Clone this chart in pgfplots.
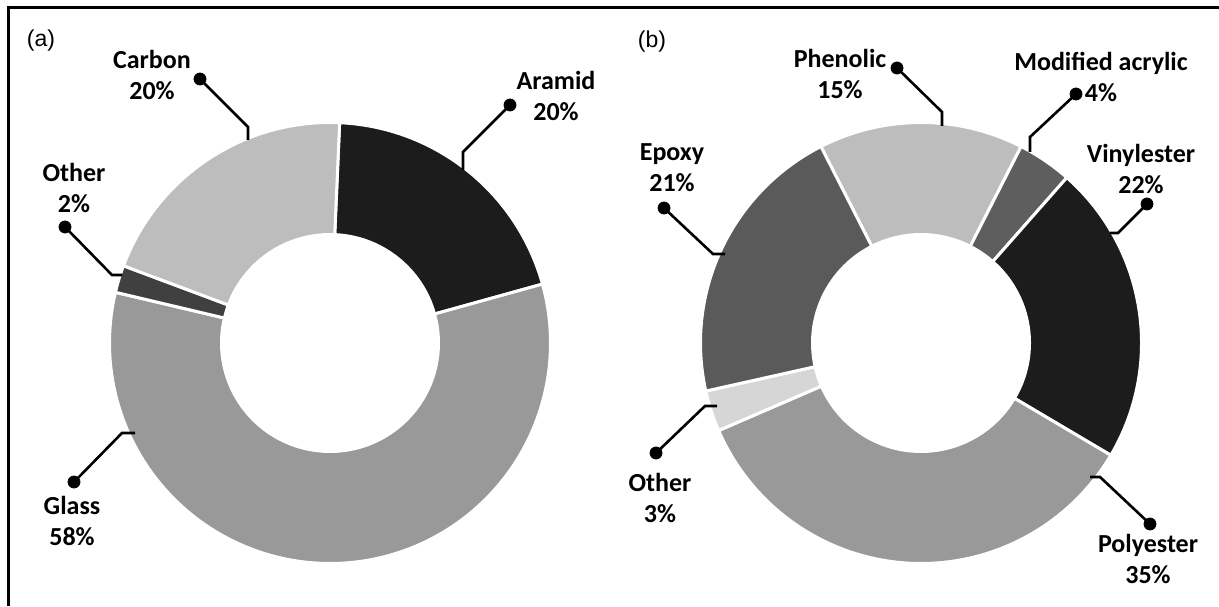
\documentclass[border=0pt]{standalone}
\usepackage{fontspec}
\setmainfont{Carlito}
\newfontfamily\arialfont{Liberation Sans}
\usepackage{pgfplots}
\pgfplotsset{compat=1.18}

\definecolor{cDark}{HTML}{1C1C1C}
\definecolor{cMid}{HTML}{999999}
\definecolor{cLight}{HTML}{BDBDBD}
\definecolor{cOtherA}{HTML}{404040}
\definecolor{cMA}{HTML}{5E5E5E}
\definecolor{cEpoxy}{HTML}{5A5A5A}
\definecolor{cOtherB}{HTML}{D6D6D6}

\newcommand\runang{0}
% #1 cx, #2 cy, #3 outer radius, #4 value (percent), #5 colour
\newcommand\sector[5]{%
  \pgfmathsetmacro\aone{\runang}%
  \pgfmathsetmacro\atwo{\runang-3.6*#4}%
  \edef\tmp{\noexpand\addplot[fill=#5, draw=white, line width=1.5pt, line join=round, domain=\atwo:\aone, samples=120] ({#1+#3*cos(x)},{#2+#3*sin(x)}) -- (axis cs:#1,#2) -- cycle;}%
  \tmp
  \global\let\runang\atwo}

\tikzset{lab/.style={align=center, font=\bfseries\fontsize{13}{15.5}\selectfont, inner sep=0pt}}

\begin{document}
\begin{tikzpicture}
\useasboundingbox (0,0) rectangle (609.5pt,303pt);
\begin{axis}[
  at={(0,0)}, anchor=south west,
  width=609.5pt, height=303pt, scale only axis,
  xmin=0, xmax=1219, ymin=0, ymax=606,
  hide axis, clip=false]

% frame
\addplot[black, line width=1.5pt, mark=none] coordinates {(8,0) (8,598.5) (1219,598.5)};

% ---- donut (a) ----
\gdef\runang{87.5}
\sector{330}{263}{220.5}{20}{cDark}    % Aramid
\sector{330}{263}{220.5}{58}{cMid}     % Glass
\sector{330}{263}{220.5}{2}{cOtherA}   % Other
\sector{330}{263}{220.5}{20}{cLight}   % Carbon
\addplot[fill=white, draw=none, domain=0:360, samples=160] ({330+110*cos(x)},{263+110*sin(x)}) -- cycle;

% ---- donut (b) ----
\gdef\runang{117}
\sector{921}{263}{220.5}{15}{cLight}     % Phenolic
\sector{921}{263}{220.5}{4}{cMA}         % Modified acrylic
\sector{921}{263}{220.5}{22}{cDark}      % Vinylester
\sector{921}{263}{220.5}{35}{cMid}       % Polyester
\sector{921}{263}{220.5}{3}{cOtherB}     % Other
\sector{921}{263}{220.5}{21}{cEpoxy}     % Epoxy
\addplot[fill=white, draw=none, domain=0:360, samples=160] ({921+110*cos(x)},{263+110*sin(x)}) -- cycle;

% ---- leader lines ----
\pgfplotsset{leader/.style={black, line width=1.3pt, mark=none, line join=miter}}
\addplot[leader] coordinates {(200,527) (248,479) (248,466)};
\addplot[leader] coordinates {(65,379) (112,331) (122,331)};
\addplot[leader] coordinates {(74,124) (122,173) (135,173)};
\addplot[leader] coordinates {(510,501) (463,454) (463,436)};
\addplot[leader] coordinates {(897,538) (942,494) (942,480)};
\addplot[leader] coordinates {(1076,512) (1030,469) (1030,454)};
\addplot[leader] coordinates {(1147,402) (1118,373) (1110,373)};
\addplot[leader] coordinates {(1150,82) (1100,129) (1090,129)};
\addplot[leader] coordinates {(656,153) (705,200) (717,200)};
\addplot[leader] coordinates {(664,398) (713,352) (725,352)};
\addplot[only marks, mark=*, mark size=3pt, black] coordinates {
  (200,527) (65,379) (74,124) (510,501)
  (897,538) (1076,512) (1147,402) (1150,82) (656,153) (664,398)};

% ---- labels ----
\node[lab] at (axis cs:152,531) {Carbon\\20\%};
\node[lab] at (axis cs:74,418) {Other\\2\%};
\node[lab] at (axis cs:72,85) {Glass\\58\%};
\node[lab] at (axis cs:556,510) {Aramid\\20\%};
\node[lab] at (axis cs:840,532) {Phenolic\\15\%};
\node[lab] at (axis cs:1101,529) {Modified acrylic\\4\%};
\node[lab] at (axis cs:1141,437) {Vinylester\\22\%};
\node[lab] at (axis cs:1148,47) {Polyester\\35\%};
\node[lab] at (axis cs:660,108) {Other\\3\%};
\node[lab] at (axis cs:672,438) {Epoxy\\21\%};
\node[font=\arialfont\fontsize{11.5}{13}\selectfont, inner sep=0pt] at (axis cs:41,565) {(a)};
\node[font=\arialfont\fontsize{11.5}{13}\selectfont, inner sep=0pt] at (axis cs:652,564) {(b)};
\end{axis}
\end{tikzpicture}
\end{document}
